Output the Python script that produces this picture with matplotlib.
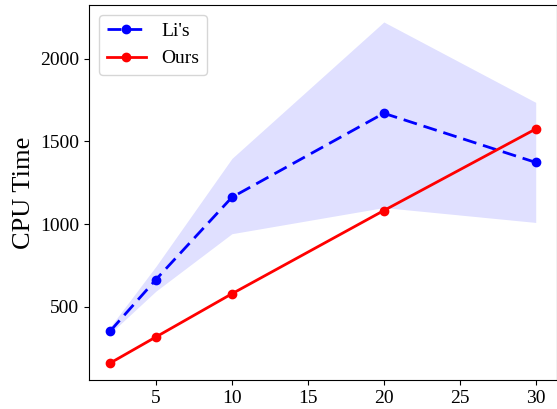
import matplotlib.pyplot as plt

plt.rcParams['font.family'] = ['Liberation Serif', 'DejaVu Serif']

x = [2, 5, 10, 20, 30]
lis = [355, 665, 1162, 1670, 1373]
lis_low = [340, 595, 942, 1100, 1010]
lis_high = [380, 745, 1397, 2222, 1736]
ours = [161, 318, 579, 1082, 1575]

fig = plt.figure(figsize=(5.57, 4.09), dpi=100)
ax = fig.add_axes([0.16, 0.071, 0.84, 0.917])

ax.fill_between(x, lis_low, lis_high, color='blue', alpha=0.12, linewidth=0)
ax.plot(x, lis, 'o--', color='blue', linewidth=2, markersize=6, dashes=(5, 2.5), label="Li's")
ax.plot(x, ours, 'o-', color='red', linewidth=2, markersize=6, label='Ours')

ax.set_ylabel('CPU Time', fontsize=19)
ax.set_yticks([500, 1000, 1500, 2000])
ax.tick_params(labelsize=14)
ax.legend(loc='upper left', fontsize=14)

plt.savefig('out.png')
